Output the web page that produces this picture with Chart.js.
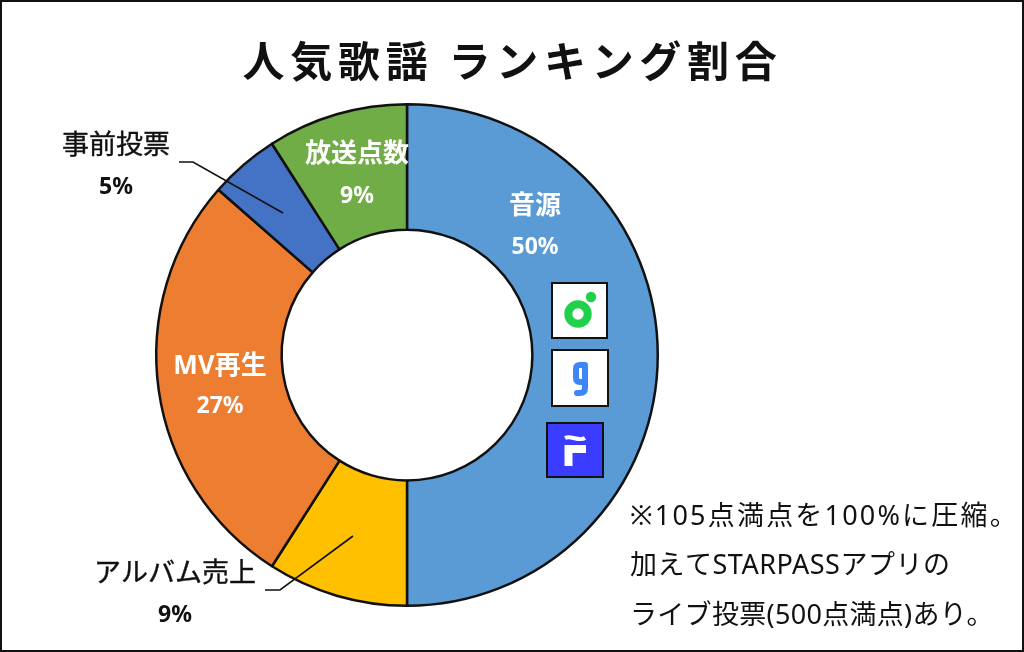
<!DOCTYPE html>
<html>
<head>
<meta charset="utf-8">
<title>人気歌謡 ランキング割合</title>
<script src="https://cdn.jsdelivr.net/npm/chart.js@4"></script>
<style>
    html, body { margin: 0; padding: 0; background: #fff; }
    canvas { display: block; }
</style>
</head>
<body>
<canvas id="rankChart" width="1024" height="652"></canvas>
<script>
var categories = ["音源", "アルバム売上", "MV再生", "事前投票", "放送点数"];
// slice sizes as measured off the ring, the printed labels are rounded
var shares = [50, 9.05, 27.4, 4.5, 9.05];
var shareLabels = ["50%", "9%", "27%", "5%", "9%"];
var sliceColors = ['#5b9bd5', '#ffc000', '#ed7d31', '#4472c4', '#70ad47'];
var noteLines = ["※105点満点を100%に圧縮。", "加えてSTARPASSアプリの", "ライブ投票(500点満点)あり。"];
var chartTitle = "人気歌謡 ランキング割合";

var fontStack = '"Noto Sans", "Noto Sans CJK JP", sans-serif';

// label spots: name line then percent line
var labelSpots = [
    { x: 535, y: 207, py: 247, color: '#fff', font: 'bold 26px ' },
    { x: 175, y: 574, py: 615, color: '#111', font: '27px ' },
    { x: 220, y: 367, py: 406, color: '#fff', font: 'bold 26px ' },
    { x: 116, y: 146, py: 187, color: '#111', font: '27px ' },
    { x: 357, y: 155, py: 196, color: '#fff', font: 'bold 26px ' }
];

function drawLeader(ctx, pts) {
    ctx.beginPath();
    ctx.moveTo(pts[0][0], pts[0][1]);
    for (var i = 1; i < pts.length; i++) ctx.lineTo(pts[i][0], pts[i][1]);
    ctx.strokeStyle = '#111';
    ctx.lineWidth = 1.6;
    ctx.stroke();
}

function drawIcons(ctx) {
    // green one
    ctx.fillStyle = '#fff';
    ctx.strokeStyle = '#111';
    ctx.lineWidth = 2;
    ctx.fillRect(552, 283, 55, 55);
    ctx.strokeRect(552, 283, 55, 55);
    ctx.beginPath();
    ctx.arc(578, 314, 9.7, 0, Math.PI * 2);
    ctx.strokeStyle = '#1fd14a';
    ctx.lineWidth = 8;
    ctx.stroke();
    ctx.beginPath();
    ctx.arc(591, 297, 5.2, 0, Math.PI * 2);
    ctx.fillStyle = '#1fd14a';
    ctx.fill();

    // blue g
    ctx.fillStyle = '#fff';
    ctx.strokeStyle = '#111';
    ctx.lineWidth = 2;
    ctx.fillRect(552, 350, 56, 56);
    ctx.strokeRect(552, 350, 56, 56);
    ctx.strokeStyle = '#3d86f5';
    ctx.lineWidth = 6;
    ctx.lineCap = 'round';
    ctx.beginPath();
    ctx.moveTo(585, 365);
    ctx.lineTo(580, 365);
    ctx.quadraticCurveTo(576, 365, 576, 369);
    ctx.lineTo(576, 378);
    ctx.quadraticCurveTo(576, 382, 580, 382);
    ctx.lineTo(585, 382);
    ctx.moveTo(585, 365);
    ctx.lineTo(585, 388);
    ctx.quadraticCurveTo(585, 393, 580, 393);
    ctx.lineTo(577, 393);
    ctx.stroke();

    // indigo square
    ctx.fillStyle = '#3a3dff';
    ctx.strokeStyle = '#111';
    ctx.lineWidth = 2;
    ctx.lineCap = 'butt';
    ctx.fillRect(547, 423, 56, 54);
    ctx.strokeRect(547, 423, 56, 54);
    ctx.strokeStyle = '#fff';
    ctx.lineWidth = 4;
    ctx.beginPath();
    ctx.moveTo(565, 438);
    ctx.bezierCurveTo(571, 435, 579, 442, 585, 438);
    ctx.stroke();
    ctx.lineWidth = 8;
    ctx.beginPath();
    ctx.moveTo(568.5, 466);
    ctx.lineTo(568.5, 449);
    ctx.lineTo(586, 449);
    ctx.stroke();
}

var overlayPlugin = {
    id: 'overlay',
    afterDraw: function (chart) {
        var ctx = chart.ctx;
        ctx.save();

        drawLeader(ctx, [[179, 162], [193, 162], [283, 213]]);
        drawLeader(ctx, [[265, 590], [280, 590], [353, 536]]);
        drawIcons(ctx);

        ctx.textAlign = 'center';
        ctx.textBaseline = 'middle';
        ctx.fillStyle = '#111';
        ctx.font = 'bold 42px "Noto Sans CJK JP", sans-serif';
        ctx.letterSpacing = '5.7px';
        ctx.fillText(chartTitle, 512.5, 61);
        ctx.letterSpacing = '0px';

        categories.forEach(function (name, i) {
            var s = labelSpots[i];
            ctx.fillStyle = s.color;
            ctx.font = s.font + fontStack;
            ctx.fillText(name, s.x, s.y);
            if (s.color === '#111') {
                // the dark names are a bit heavier than regular
                ctx.strokeStyle = s.color;
                ctx.lineWidth = 0.4;
                ctx.strokeText(name, s.x, s.y);
            }
            ctx.font = 'bold 23px ' + fontStack;
            ctx.fillText(shareLabels[i], s.x, s.py);
        });

        ctx.textAlign = 'left';
        ctx.fillStyle = '#111';
        ctx.font = '27px ' + fontStack;
        ctx.letterSpacing = '2.2px';
        ctx.fillText(noteLines[0], 630, 517);
        ctx.letterSpacing = '0.5px';
        ctx.fillText(noteLines[1], 630, 566);
        ctx.letterSpacing = '0.3px';
        ctx.fillText(noteLines[2], 630, 616);
        ctx.letterSpacing = '0px';

        // outer frame
        ctx.strokeStyle = '#111';
        ctx.lineWidth = 2;
        ctx.strokeRect(1, 1, 1022, 650);
        ctx.restore();
    }
};

var ctx = document.getElementById('rankChart').getContext('2d');
var rankChart = new Chart(ctx, {
    type: 'doughnut',
    data: {
        labels: categories,
        datasets: [{
            data: shares,
            backgroundColor: sliceColors,
            borderColor: '#111',
            borderWidth: 2.5,
            borderAlign: 'center'
        }]
    },
    options: {
        responsive: false,
        animation: false,
        cutout: '50%',
        layout: { padding: { left: 155, right: 365, top: 103, bottom: 45 } },
        plugins: {
            legend: { display: false },
            title: { display: false },
            tooltip: { enabled: false }
        }
    },
    plugins: [overlayPlugin]
});
</script>
</body>
</html>
